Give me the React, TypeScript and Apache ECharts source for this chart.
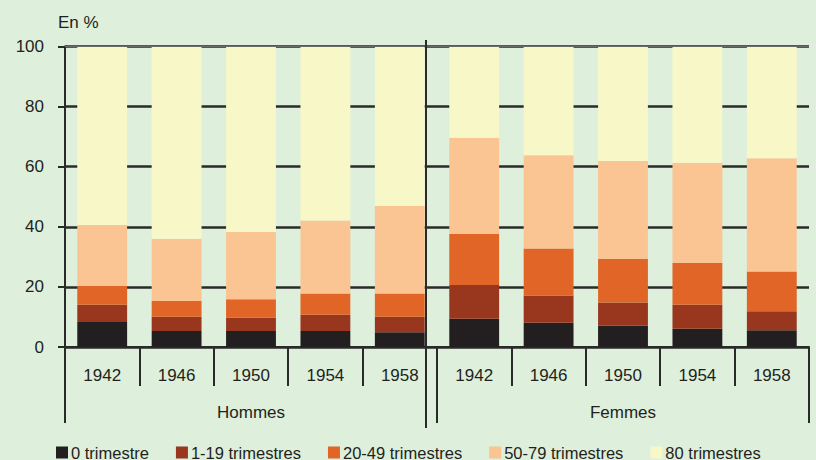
import React, { useEffect, useRef } from "react";
import * as echarts from "echarts";

const years = ["1942", "1946", "1950", "1954", "1958"];
const categories = [...years, ...years];
const groups = ["Hommes", "Femmes"];
const seriesNames = ["0 trimestre", "1-19 trimestres", "20-49 trimestres", "50-79 trimestres", "80 trimestres"];
const colors = ["#231f20", "#98361e", "#e06526", "#fbc593", "#f8f7c8"];
// Hommes 1942..1958, then Femmes 1942..1958
const s0 = [8.3, 5.3, 5.3, 5.3, 4.9, 9.4, 8.1, 7.1, 6.1, 5.6];
const s1 = [5.8, 4.8, 4.4, 5.4, 5.2, 11.2, 9.0, 7.7, 8.0, 6.3];
const s2 = [6.2, 5.2, 6.2, 7.1, 7.7, 17.0, 15.7, 14.6, 13.9, 13.2];
const s3 = [20.3, 20.7, 22.4, 24.3, 29.1, 32.0, 31.0, 32.5, 33.3, 37.7];
const s4 = [59.4, 64.0, 61.7, 57.9, 53.1, 30.4, 36.2, 38.1, 38.7, 37.2];
const values = [s0, s1, s2, s3, s4];
const yTicks = { min: 0, max: 100, interval: 20 };

const FONT = "'Liberation Sans', Arial, sans-serif";
const DARK = "#2a2a2a";
const TXT = "#231f20";

export default function App() {
  const ref = useRef<HTMLDivElement>(null);
  useEffect(() => {
    document.body.style.margin = "0";
    const chart = echarts.init(ref.current!, null, { renderer: "svg" });
    const series: any[] = values.map((v, i) => ({
      name: seriesNames[i],
      type: "bar",
      stack: "total",
      data: v,
      barCategoryGap: "33%",
      itemStyle: { color: colors[i] },
      ...(i === values.length - 1
        ? {
            markLine: {
              silent: true,
              symbol: "none",
              label: { show: false },
              lineStyle: { color: "#6a6a6a", width: 1, type: "solid" },
              data: [{ yAxis: 100 }],
            },
          }
        : {}),
    }));
    chart.setOption({
      animation: false,
      backgroundColor: "#deefdc",
      textStyle: { fontFamily: FONT },
      grid: { left: 65, right: 7, top: 46.5, bottom: 113, containLabel: false },
      legend: {
        data: seriesNames,
        left: 56,
        top: 444,
        padding: 0,
        width: 760,
        icon: "rect",
        itemWidth: 12,
        itemHeight: 12,
        itemGap: 27,
        textStyle: { fontFamily: FONT, fontSize: 16.5, lineHeight: 14, color: TXT, padding: [0, 0, 0, -2] },
      },
      xAxis: [
        {
          type: "category",
          data: categories,
          position: "bottom",
          axisLine: { show: true, lineStyle: { color: DARK, width: 2 } },
          axisTick: { show: true, length: 39, lineStyle: { color: DARK, width: 2 } },
          axisLabel: { fontFamily: FONT, fontSize: 17, color: TXT, margin: 20 },
        },
        {
          type: "category",
          data: groups,
          position: "bottom",
          axisLine: { show: false },
          axisTick: { show: true, length: 76, lineStyle: { color: DARK, width: 2 } },
          axisLabel: { fontFamily: FONT, fontSize: 17, color: TXT, margin: 57 },
        },
      ],
      yAxis: {
        type: "value",
        ...yTicks,
        name: "En %",
        nameLocation: "end",
        nameGap: 16,
        nameTextStyle: { fontFamily: FONT, fontSize: 17, color: TXT, align: "left", padding: [0, 0, 0, -7] },
        axisLine: { show: true, lineStyle: { color: DARK, width: 2 } },
        axisTick: { show: true, length: 7, lineStyle: { color: DARK, width: 2 } },
        axisLabel: { fontFamily: FONT, fontSize: 17, color: TXT, margin: 21 },
        splitLine: { show: true, lineStyle: { color: DARK, width: 2.5 } },
      },
      graphic: [
        {
          type: "line",
          z: 100,
          shape: { x1: 426, y1: 40, x2: 426, y2: 428 },
          style: { stroke: DARK, lineWidth: 2 },
        },
      ],
      series,
    });
    return () => chart.dispose();
  }, []);
  return <div ref={ref} style={{ width: 816, height: 460 }} />;
}
